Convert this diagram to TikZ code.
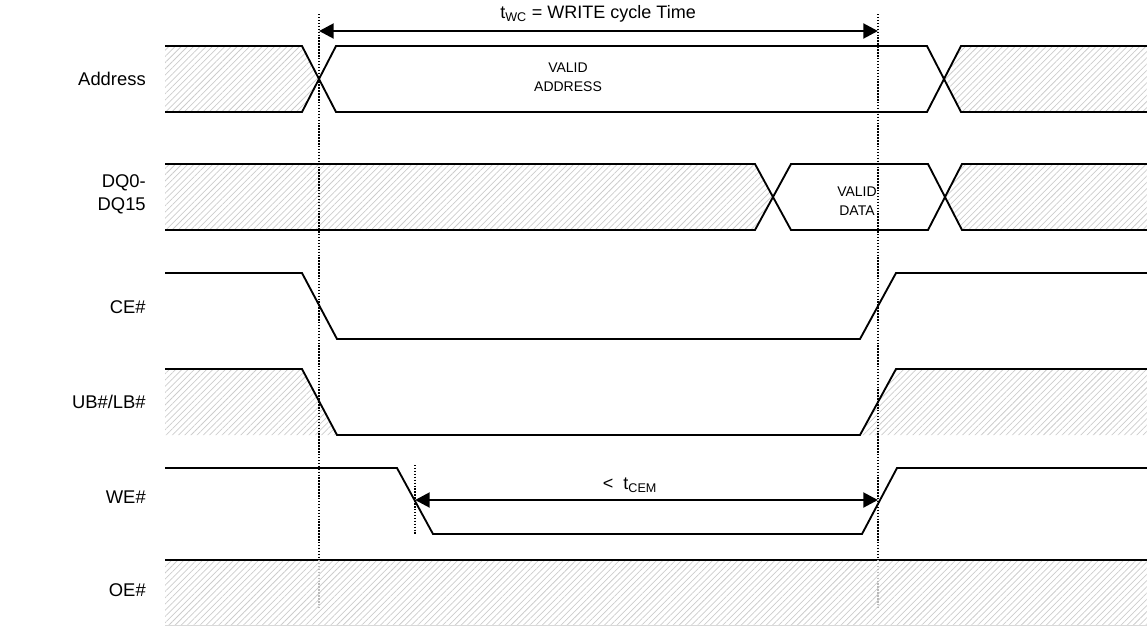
\documentclass[tikz,border=0pt]{standalone}
\usepackage{fontspec}
\setmainfont{Liberation Sans}
\usetikzlibrary{patterns.meta,arrows.meta}
\begin{document}
\begin{tikzpicture}[x=0.75pt,y=-0.75pt,
  sig/.style={line width=1.4pt,line join=miter},
  hatch/.style={pattern={Lines[angle=45,distance=3.3pt,line width=0.55pt]},pattern color=gray!40},
  vline/.style={line width=1.2pt,dash pattern=on 1.1pt off 1.1pt},
  vlinegray/.style={line width=1.2pt,dash pattern=on 1.1pt off 1.1pt,draw=gray!55},
  dimarrow/.style={line width=2.2pt,{Triangle[length=11pt,width=11pt]}-{Triangle[length=11pt,width=11pt]}},
  lab/.style={anchor=east,font=\fontsize{13.8}{17}\selectfont,align=right,inner sep=0pt},
  small/.style={font=\fontsize{10.5}{14}\selectfont,align=center,inner sep=0pt}]
\useasboundingbox (0,0) rectangle (1147,626);
% hatched regions
\fill[hatch] (165,46) -- (302,46) -- (319,79) -- (302,112) -- (165,112) -- cycle;
\fill[hatch] (961,46) -- (1147,46) -- (1147,112) -- (961,112) -- (944,79) -- cycle;
\fill[hatch] (165,164) -- (755,164) -- (773,197) -- (755,230) -- (165,230) -- cycle;
\fill[hatch] (962,164) -- (1147,164) -- (1147,230) -- (962,230) -- (945,197) -- cycle;
\fill[hatch] (165,369) -- (302,369) -- (337,435) -- (165,435) -- cycle;
\fill[hatch] (860,435) -- (896,369) -- (1147,369) -- (1147,435) -- cycle;
\fill[hatch] (165,560) rectangle (1147,625);
\draw[gray!30,line width=0.5pt] (165,625) -- (1147,625);
% labels
\node[lab] (lAddr) at (146,79) {Address};
\node[lab] (lDQ) at (146,194) {DQ0-\\DQ15};
\node[lab] (lCE) at (146,307) {CE\#};
\node[lab] (lUB) at (146,402) {UB\#/LB\#};
\node[lab] (lWE) at (146,497) {WE\#};
\node[lab] (lOE) at (146,590) {OE\#};
% Address
\draw[sig] (165,46) -- (302,46) -- (336,112) -- (927,112) -- (961,46) -- (1147,46);
\draw[sig] (165,112) -- (302,112) -- (336,46) -- (927,46) -- (961,112) -- (1147,112);
\node[small] (va) at (568,77) {VALID\\ADDRESS};
% DQ
\draw[sig] (165,164) -- (755,164) -- (791,230) -- (928,230) -- (962,164) -- (1147,164);
\draw[sig] (165,230) -- (755,230) -- (791,164) -- (928,164) -- (962,230) -- (1147,230);
\node[small] (vd) at (857,201) {VALID\\DATA};
% CE
\draw[sig] (165,273) -- (302,273) -- (337,339) -- (860,339) -- (896,273) -- (1147,273);
% UB/LB
\draw[sig] (165,369) -- (302,369) -- (337,435) -- (860,435) -- (896,369) -- (1147,369);
% WE
\draw[sig] (165,468) -- (397,468) -- (433,534) -- (862,534) -- (897,468) -- (1147,468);
% OE
\draw[sig] (165,560) -- (1147,560);
% dotted reference lines
\coordinate (d1t) at (319,14);
\coordinate (d1m) at (319,560);
\coordinate (d1b) at (319,607);
\coordinate (d2t) at (878,14);
\coordinate (d2m) at (878,560);
\coordinate (d2b) at (878,607);
\coordinate (d3t) at (415,465);
\coordinate (d3b) at (415,535);
\draw[vline] (d1t) -- (d1m);
\draw[vlinegray] (d1m) -- (d1b);
\draw[vline] (d2t) -- (d2m);
\draw[vlinegray] (d2m) -- (d2b);
\draw[vline] (d3t) -- (d3b);
% dimension arrows
\coordinate (a1l) at (319,31);
\coordinate (a1r) at (878,31);
\draw[dimarrow] (a1l) -- (a1r);
\node[font=\fontsize{13.5}{16}\selectfont,inner sep=0pt] (twc) at (598,14) {t\textsubscript{WC} = WRITE cycle Time};
\coordinate (a2l) at (415,500);
\coordinate (a2r) at (878,500);
\draw[dimarrow] (a2l) -- (a2r);
\node[font=\fontsize{13.5}{16}\selectfont,inner sep=0pt] (tcem) at (630,485) {<\ \ t\textsubscript{CEM}};
\end{tikzpicture}
\end{document}
